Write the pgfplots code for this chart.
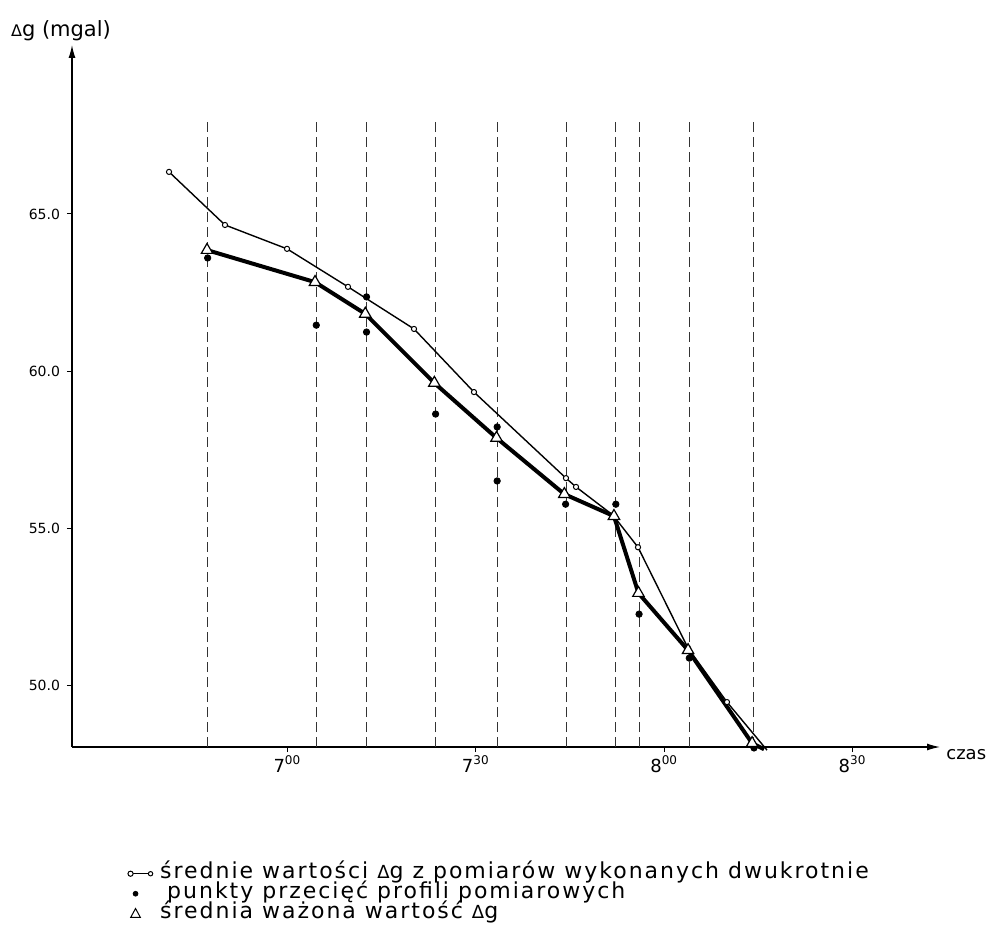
\documentclass[border=0pt]{standalone}
\usepackage{fontspec}
\setmainfont{DejaVu Sans}
\newfontfamily\legfont[LetterSpace=9]{DejaVu Sans}
\usepackage{pgfplots}
\pgfplotsset{compat=1.18}
\usetikzlibrary{arrows.meta}

\pgfplotstableread{
x y
401.15 66.34
410.06 64.65
419.94 63.89
429.65 62.68
440.16 61.34
449.71 59.33
464.36 56.59
465.96 56.31
471.85 55.41
475.83 54.39
483.79 51.18
490.00 49.46
}\meanpts

\pgfplotstableread{
x y
407.2 63.85
424.4 62.83
432.4 61.82
443.4 59.62
453.3 57.87
464.1 56.08
472.0 55.38
475.9 52.93
483.8 51.11
494.0 48.15
}\weighted

\pgfplotstableread{
x y
407.3 63.60
424.6 61.46
432.6 62.36
432.6 61.24
443.6 58.63
453.4 58.22
453.4 56.50
464.3 55.76
472.3 55.76
476.0 52.26
484.0 50.86
494.3 48.00
}\crosspts

\begin{document}
\begin{tikzpicture}
\useasboundingbox (-36pt,-94.5pt) rectangle (458.5pt,373.5pt);
\begin{axis}[
  scale only axis, width=434pt, height=351pt,
  xmin=385.70, xmax=523.92, ymin=48.03, ymax=70.38,
  axis lines=left,
  axis line style={line width=0.6pt, -{Latex[length=6.5pt,width=3.5pt]}},
  clip=false,
  xtick={420,450,480,510},
  xticklabels={7\textsuperscript{00},7\textsuperscript{30},8\textsuperscript{00},8\textsuperscript{30}},
  ytick={50,55,60,65},
  yticklabels={50.0,55.0,60.0,65.0},
  tick align=outside,
  major tick length=2.5pt,
  tick style={line width=0.5pt, black},
  yticklabel style={font=\fontsize{7}{8}\selectfont},
  xticklabel style={font=\fontsize{9}{10}\selectfont, yshift=1.5pt},
  ylabel={{\fontsize{8}{8}\selectfont Δ}g (mgal)},
  ylabel style={rotate=-90, at={(axis description cs:-0.0127,1.021)}, anchor=center, font=\fontsize{10.5}{12}\selectfont},
  xlabel={czas},
  xlabel style={at={(axis description cs:1.0069,-0.0114)}, anchor=west, inner sep=0pt, font=\fontsize{9}{10}\selectfont},
  legend style={at={(axis description cs:0.0565,-0.16)}, anchor=north west, draw=none, fill=none,
    font=\legfont\fontsize{11}{10}\selectfont,
    row sep=0pt, column sep=3.5pt,
    nodes={inner sep=0pt, text height=7.5pt, text depth=2.5pt}},
  legend cell align=left,
]
\pgfplotsinvokeforeach{407.2,424.6,432.6,443.6,453.4,464.4,472.2,476.1,484.0,494.3}{
  \addplot[forget plot, black!80, line width=0.5pt, dash pattern=on 5pt off 2.5pt] coordinates {(#1,48.03) (#1,68.0)};
}
% thin line (mean values), continues to below the axis
\addplot[forget plot, black, line width=0.7pt] table {\meanpts} -- (496.37,47.93);
% thick line (weighted mean)
\addplot[forget plot, black, line width=2pt] table {\weighted} -- (495.9,47.96);

\addplot[only marks, mark=*, mark size=1.3pt, mark options={fill=white, draw=black, line width=0.5pt},
  legend image code/.code={
    \draw[line width=0.6pt] (0pt,0pt) -- (10pt,0pt);
    \draw[fill=white, line width=0.5pt] (0pt,0pt) circle (1.3pt);
    \draw[fill=white, line width=0.5pt] (10pt,0pt) circle (1.1pt);}
  ] table {\meanpts};
\addlegendentry{średnie wartości {\fontsize{9}{9}\selectfont Δ}g z pomiarów wykonanych dwukrotnie}

\addplot[only marks, mark=*, mark size=1.6pt, black,
  legend image code/.code={\fill (2.5pt,0pt) circle (1.2pt);}
  ] table {\crosspts};
\addlegendentry{\hspace{3.5pt}punkty przecięć profili pomiarowych}

\addplot[only marks, mark=triangle*, mark size=3.3pt, mark options={fill=white, draw=black, line width=0.6pt},
  legend image code/.code={\draw[line width=0.5pt] (2.5pt,0pt) +(-2.4pt,-1.8pt) -- +(2.4pt,-1.8pt) -- +(0pt,2.6pt) -- cycle;}
  ] table {\weighted};
\addlegendentry{średnia ważona wartość {\fontsize{9}{9}\selectfont Δ}g}
\end{axis}
\end{tikzpicture}
\end{document}
